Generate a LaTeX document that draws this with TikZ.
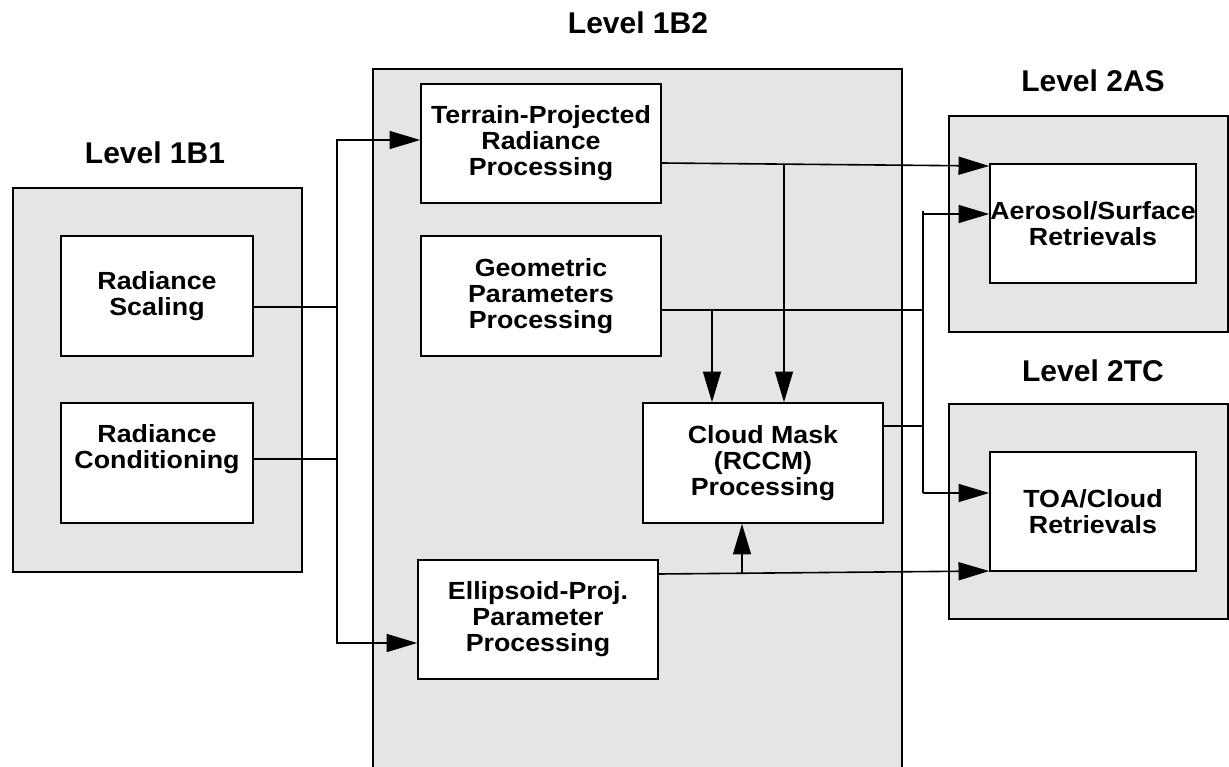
\documentclass[tikz,border=0pt]{standalone}
\usepackage{fontspec}
\setmainfont{Liberation Sans}
\newfontfamily\boxfamily[FakeStretch=1.08]{Liberation Sans}
\usetikzlibrary{arrows.meta}
\definecolor{panelgray}{HTML}{E5E5E5}
\tikzset{
  panel/.style={draw=black, fill=panelgray, line width=1.2pt, inner sep=0pt},
  stage/.style={draw=black, fill=white, line width=1.2pt, align=center, inner sep=0pt,
    font=\boxfamily\bfseries\fontsize{18.6}{19.5}\selectfont},
  stagetext/.style={align=center, inner sep=0pt,
    font=\boxfamily\bfseries\fontsize{18.6}{19.5}\selectfont},
  levellabel/.style={anchor=base, inner sep=0pt, font=\bfseries\fontsize{22.5}{27}\selectfont},
  flow/.style={line width=1.2pt},
  arr/.style={flow, -{Triangle[length=23pt,width=13.5pt]}},
}
\begin{document}
\begin{tikzpicture}[x=0.75pt,y=-0.75pt]
\clip (0,0) rectangle (1229,767);

% processing-level panels
\node[panel, minimum width=216.75pt, minimum height=288pt] (l1b1) at (157.5,380) {};
\node[panel, minimum width=396.75pt, minimum height=563.25pt] (l1b2) at (637.5,444.5) {};
\node[panel, minimum width=209.25pt, minimum height=162pt] (l2as) at (1088.5,224) {};
\node[panel, minimum width=209.25pt, minimum height=161.25pt] (l2tc) at (1088.5,511.5) {};

% panel titles
\node[levellabel] (t1b1) at (155,163) {Level 1B1};
\node[levellabel] (t1b2) at (638,34) {Level 1B2};
\node[levellabel] (t2as) at (1093,92) {Level 2AS};
\node[levellabel] (t2tc) at (1093,381) {Level 2TC};

% Level 1B1 stages
\node[stage, minimum width=144pt, minimum height=90pt] (rs) at (157,296) {Radiance\\Scaling};
\node[stage, minimum width=144pt, minimum height=90pt] (rc) at (157,463) {};
\node[stagetext] (rctext) at (157,449) {Radiance\\Conditioning};

% Level 1B2 stages
\node[stage, minimum width=180pt, minimum height=89.25pt] (tp) at (541,143.5) {Terrain-Projected\\Radiance\\Processing};
\node[stage, minimum width=180pt, minimum height=90pt] (gp) at (541,296) {Geometric\\Parameters\\Processing};
\node[stage, minimum width=180pt, minimum height=90pt] (cm) at (763,463) {Cloud Mask\\(RCCM)\\Processing};
\node[stage, minimum width=180pt, minimum height=89.25pt] (ep) at (538,619.5) {Ellipsoid-Proj.\\Parameter\\Processing};

% Level 2 stages
\node[stage, minimum width=154.5pt, minimum height=89.25pt] (ar) at (1093,223.5) {Aerosol/Surface\\Retrievals};
\node[stage, minimum width=154.5pt, minimum height=89.25pt] (toa) at (1093,511.5) {TOA/Cloud\\Retrievals};

% junction columns
\coordinate (busA) at (337,0);
\coordinate (busB) at (923,0);

% Level 1B1 outputs feeding Level 1B2
\draw[flow] (rs.east |- 0,307) -- (busA |- 0,307);
\draw[flow] (rc.east |- 0,459) -- (busA |- 0,459);
\draw[arr] (busA |- 0,307) |- (tp.west |- 0,140);
\draw[arr] (busA |- 0,307) |- (ep.west |- 0,643);

% terrain-projected radiance output
\draw[arr] (tp.east |- 0,163) -- (ar.west |- 0,166);
\draw[arr] (784,164) -- (cm.north -| 784,0);

% geometric parameters output
\draw[flow] (gp.east |- 0,310) -- (busB |- 0,310);
\draw[arr] (712,310) -- (cm.north -| 712,0);
\draw[flow] (busB |- 0,211) -- (busB |- 0,493);
\draw[arr] (busB |- 0,214) -- (ar.west |- 0,214);
\draw[arr] (busB |- 0,493) -- (toa.west |- 0,493);

% cloud mask output
\draw[flow] (cm.east |- 0,426) -- (busB |- 0,426);

% ellipsoid-projected parameters output
\draw[arr] (ep.east |- 0,574) -- (toa.west |- 0,571);
\draw[arr] (742,573) -- (cm.south -| 742,0);
\end{tikzpicture}
\end{document}
